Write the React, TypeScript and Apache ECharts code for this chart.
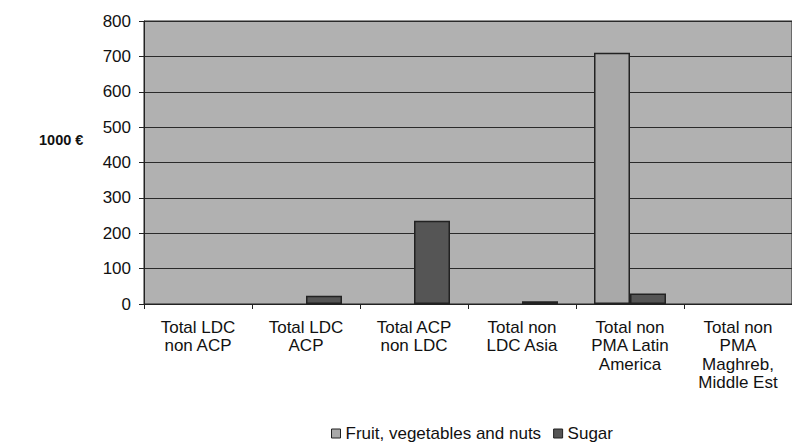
import React, { useEffect, useRef } from "react";
import * as echarts from "echarts";

const categories = [
  "Total LDC\nnon ACP",
  "Total LDC\nACP",
  "Total ACP\nnon LDC",
  "Total non\nLDC Asia",
  "Total non\nPMA Latin\nAmerica",
  "Total non\nPMA\nMaghreb,\nMiddle Est",
];
const fruitValues = [null, null, null, null, 710, null];
const sugarValues = [null, 23, 235, 8, 30, null];
const yTicks = { min: 0, max: 800, interval: 100 };

export default function App() {
  const ref = useRef<HTMLDivElement>(null);
  useEffect(() => {
    const chart = echarts.init(ref.current!, null, { renderer: "svg" });
    const font = "Liberation Sans, Arial, sans-serif";
    chart.setOption({
      animation: false,
      backgroundColor: "#ffffff",
      textStyle: { fontFamily: font },
      grid: {
        left: 144,
        right: 0,
        top: 21,
        bottom: 144,
        show: true,
        backgroundColor: "#b1b1b1",
        borderColor: "#222",
        borderWidth: 1,
      },
      graphic: [
        {
          type: "text",
          left: 39,
          top: 132,
          style: { text: "1000 €", font: "bold 14.5px Liberation Sans, Arial, sans-serif", fill: "#111" },
        },
      ],
      legend: {
        bottom: 1,
        left: 326,
        itemWidth: 9,
        itemHeight: 9,
        itemGap: 12,
        textStyle: { fontSize: 17, color: "#111", fontFamily: font },
        data: [
          { name: "Fruit, vegetables and nuts", icon: "rect", itemStyle: { color: "#a9a9a9", borderColor: "#222", borderWidth: 1 } },
          { name: "Sugar", icon: "rect", itemStyle: { color: "#555555", borderColor: "#222", borderWidth: 1 } },
        ],
      },
      xAxis: {
        type: "category",
        data: categories,
        axisLine: { show: true, lineStyle: { color: "#222" } },
        axisTick: { show: true, alignWithLabel: false, length: 5, lineStyle: { color: "#222" } },
        axisLabel: { color: "#111", fontSize: 17, lineHeight: 18.5, margin: 14, interval: 0, fontFamily: font },
      },
      yAxis: {
        type: "value",
        min: yTicks.min,
        max: yTicks.max,
        interval: yTicks.interval,
        axisLine: { show: true, lineStyle: { color: "#222" } },
        axisTick: { show: true, length: 5, lineStyle: { color: "#222" } },
        axisLabel: { color: "#111", fontSize: 17, margin: 13, fontFamily: font },
        splitLine: { show: true, lineStyle: { color: "#2a2a2a", width: 1 } },
      },
      series: [
        {
          name: "Fruit, vegetables and nuts",
          type: "bar",
          data: fruitValues,
          barWidth: 36,
          barGap: "0%",
          itemStyle: { color: "#a9a9a9", borderColor: "#222", borderWidth: 1.5 },
        },
        {
          name: "Sugar",
          type: "bar",
          data: sugarValues,
          barWidth: 36,
          barGap: "0%",
          itemStyle: { color: "#555555", borderColor: "#222", borderWidth: 1.5 },
        },
      ],
    });
    return () => chart.dispose();
  }, []);
  return <div ref={ref} style={{ width: 792, height: 448, position: "absolute", left: 0, top: 0 }} />;
}
